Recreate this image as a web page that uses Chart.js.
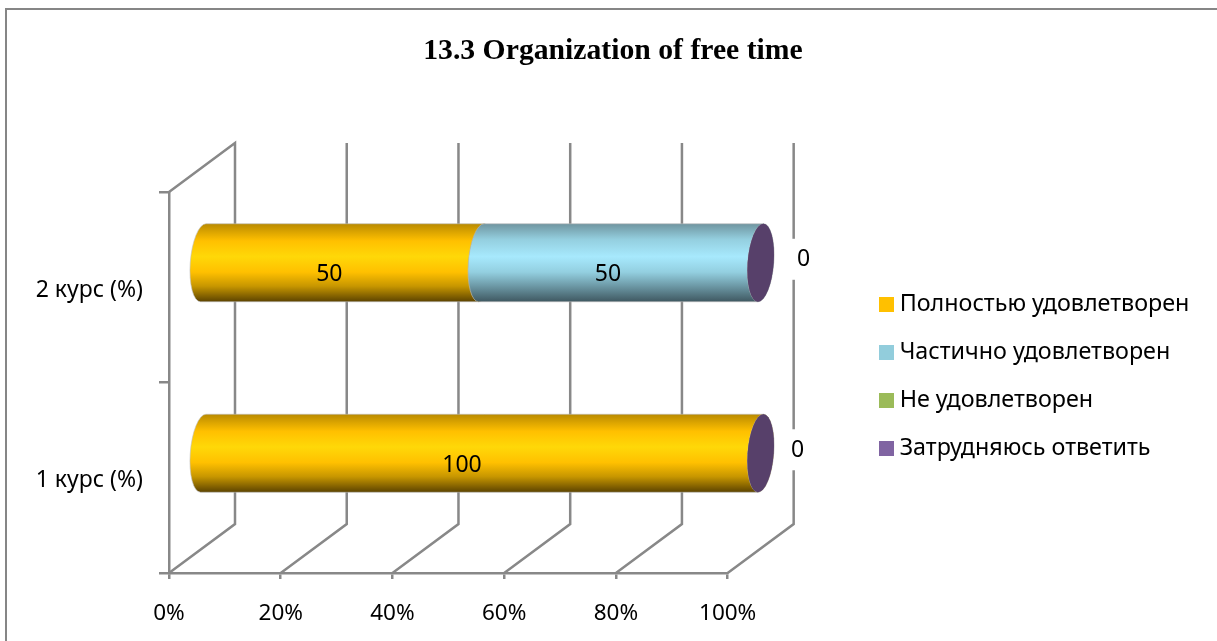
<!DOCTYPE html>
<html>
<head>
<meta charset="utf-8">
<style>
    html, body { margin: 0; padding: 0; background: #fff; }
    canvas { display: block; }
</style>
<script src="https://cdn.jsdelivr.net/npm/chart.js@4"></script>
</head>
<body>
<canvas id="grafico" width="1217" height="641"></canvas>
<script>
// top to bottom, as on the picture
const cursos = ['2 курс (%)', '1 курс (%)'];

const polnostyu = [50, 100];
const chastichno = [50, null];
const ne = [null, null];
const zatrudnyayus = [0, 0];

const nomes = ['Полностью удовлетворен', 'Частично удовлетворен', 'Не удовлетворен', 'Затрудняюсь ответить'];
const cores = ['#FFC000', '#92CDDC', '#9BBB59', '#8064A2'];

const tickPasso = 20;
const tickMax = 100;

const fonte = '"Noto Sans"';
const tamanho = 23;
const corLinha = '#888888';
const larguraLinha = 2.5;

// depth of the 3D box
const fundoX = 66;
const fundoY = -49;

const gradientes = {
    '#FFC000': [[0, '#b98a00'], [0.12, '#e0a800'], [0.22, '#ffc000'], [0.42, '#ffd808'], [0.62, '#ffc000'], [0.8, '#c79600'], [1, '#5c4300']],
    '#92CDDC': [[0, '#6f95a0'], [0.2, '#94cfdf'], [0.42, '#a7e9fd'], [0.62, '#93cfe0'], [0.8, '#6c98a5'], [1, '#3f5861']],
    '#9BBB59': [[0, '#6f8740'], [0.42, '#c0e36f'], [1, '#4a5a2a']],
    '#8064A2': [[0, '#57406a'], [1, '#57406a']]
};
const tampas = { '#FFC000': '#a67c00', '#92CDDC': '#5f8793', '#9BBB59': '#6f8740', '#8064A2': '#57406a' };

function caminhoCilindro(ctx, x0, x1, yc, ry) {
    const rx = 13;
    const incl = -0.07;
    ctx.beginPath();
    ctx.save();
    ctx.transform(1, 0, incl, 1, x0, yc);
    ctx.ellipse(0, 0, rx, ry, 0, Math.PI / 2, Math.PI * 1.5);
    ctx.restore();
    ctx.save();
    ctx.transform(1, 0, incl, 1, x1, yc);
    ctx.ellipse(0, 0, rx, ry, 0, Math.PI * 1.5, Math.PI / 2);
    ctx.restore();
    ctx.closePath();
}

function caminhoTampa(ctx, x, yc, ry) {
    ctx.beginPath();
    ctx.save();
    ctx.transform(1, 0, -0.07, 1, x, yc);
    ctx.ellipse(0, 0, 13, ry, 0, 0, Math.PI * 2);
    ctx.restore();
}

const moldura = {
    id: 'moldura',
    beforeDraw(chart) {
        const ctx = chart.ctx;
        ctx.save();
        ctx.strokeStyle = '#868686';
        ctx.lineWidth = 2;
        ctx.beginPath();
        ctx.moveTo(6, 641);
        ctx.lineTo(6, 9);
        ctx.lineTo(1217, 9);
        ctx.stroke();
        ctx.restore();
    }
};

const caixa3d = {
    id: 'caixa3d',
    afterLayout(chart) {
        chart.legend.left = 860.3;
        chart.legend.top += 56;
        chart.legend.bottom += 56;
    },
    beforeDatasetsDraw(chart) {
        const ctx = chart.ctx;
        const area = chart.chartArea;
        const x = chart.scales.x;
        ctx.save();
        ctx.strokeStyle = corLinha;
        ctx.lineWidth = larguraLinha;
        x.ticks.forEach(function (t, i) {
            const px = x.getPixelForTick(i);
            ctx.beginPath();
            ctx.moveTo(px, area.bottom);
            ctx.lineTo(px + fundoX, area.bottom + fundoY);
            ctx.lineTo(px + fundoX, area.top + fundoY);
            if (i == 0) {
                ctx.lineTo(px, area.top);
            }
            ctx.stroke();
        });
        ctx.restore();
    },
    // chart.js walks the datasets backwards, the cylinders need them in order
    beforeDatasetDraw() {
        return false;
    },
    afterDatasetsDraw(chart) {
        const ctx = chart.ctx;
        ctx.save();
        // the bars sit halfway into the depth of the box
        ctx.translate(fundoX / 2, fundoY / 2);
        chart.data.datasets.forEach(function (ds, d) {
            const cor = ds.backgroundColor;
            chart.getDatasetMeta(d).data.forEach(function (bar, i) {
                if (ds.data[i] === null) return;
                const ry = bar.height / 2;
                const g = ctx.createLinearGradient(0, bar.y - ry, 0, bar.y + ry);
                gradientes[cor].forEach(function (p) { g.addColorStop(p[0], p[1]); });
                caminhoCilindro(ctx, bar.base, bar.x, bar.y, ry);
                ctx.fillStyle = g;
                ctx.fill();
                ctx.strokeStyle = 'rgba(190,190,190,0.6)';
                ctx.lineWidth = 1;
                ctx.stroke();
                caminhoTampa(ctx, bar.x, bar.y, ry);
                ctx.fillStyle = tampas[cor];
                ctx.fill();
            });
        });

        ctx.font = tamanho + 'px ' + fonte;
        ctx.textAlign = 'center';
        ctx.textBaseline = 'middle';
        chart.data.datasets.forEach(function (ds, d) {
            chart.getDatasetMeta(d).data.forEach(function (bar, i) {
                const valor = ds.data[i];
                if (valor === null) return;
                if (valor == 0) {
                    const lx = bar.x + (i == 0 ? 43 : 37);
                    const ly = bar.y - 3;
                    ctx.fillStyle = '#fff';
                    ctx.fillRect(lx - 14, ly - 21, 28, 41);
                    ctx.fillStyle = '#000';
                    ctx.fillText('0', lx, ly);
                } else {
                    ctx.fillStyle = '#000';
                    ctx.fillText(valor, (bar.base + bar.x) / 2 + (valor == 100 ? -20 : -13), bar.y + 12);
                }
            });
        });
        ctx.restore();
    }
};

// borderWidth only thickens the legend swatch, the bars are drawn by the plugin above
new Chart(document.getElementById('grafico'), {
    type: 'bar',
    plugins: [moldura, caixa3d],
    data: {
        labels: cursos,
        datasets: [
            { label: nomes[0], data: polnostyu, backgroundColor: cores[0], borderColor: cores[0], borderWidth: 12 },
            { label: nomes[1], data: chastichno, backgroundColor: cores[1], borderColor: cores[1], borderWidth: 12 },
            { label: nomes[2], data: ne, backgroundColor: cores[2], borderColor: cores[2], borderWidth: 12 },
            { label: nomes[3], data: zatrudnyayus, backgroundColor: cores[3], borderColor: cores[3], borderWidth: 12 }
        ]
    },
    options: {
        indexAxis: 'y',
        responsive: false,
        animation: false,
        layout: { padding: { left: 9, right: 0, top: 0, bottom: 0 } },
        datasets: { bar: { barThickness: 78 } },
        font: { family: fonte, size: tamanho },
        plugins: {
            tooltip: { enabled: false },
            title: {
                display: true,
                text: '13.3 Organization of free time',
                color: '#000',
                font: { family: '"Liberation Serif"', size: 29.7, weight: 'bold' },
                padding: { top: 34, bottom: 122.4 }
            },
            legend: {
                position: 'right',
                labels: {
                    color: '#000',
                    font: { family: fonte, size: 23.3 },
                    boxWidth: 3,
                    boxHeight: 3,
                    padding: 24.7
                }
            }
        },
        scales: {
            x: {
                stacked: true,
                min: 0,
                max: tickMax,
                border: { color: corLinha, width: larguraLinha },
                grid: { drawOnChartArea: false, color: corLinha, lineWidth: larguraLinha, tickLength: 6 },
                ticks: {
                    stepSize: tickPasso,
                    maxRotation: 0,
                    color: '#000',
                    padding: 21,
                    font: { family: fonte, size: 22.5 },
                    callback: function (v) { return v + '%'; }
                },
                afterFit(s) { s.height = 68; }
            },
            y: {
                stacked: true,
                border: { color: corLinha, width: larguraLinha },
                grid: { drawOnChartArea: false, color: corLinha, lineWidth: larguraLinha, tickLength: 10 },
                ticks: {
                    color: '#000',
                    padding: 16,
                    labelOffset: 3,
                    font: { family: fonte, size: tamanho }
                },
                afterFit(s) { s.width = 160; }
            },
            // empty axis, only keeps the gap between the plot and the legend
            folga: {
                type: 'linear',
                position: 'right',
                display: true,
                border: { display: false },
                grid: { display: false },
                ticks: { display: false },
                afterFit(s) { s.width = 288; }
            }
        }
    }
});
</script>
</body>
</html>
